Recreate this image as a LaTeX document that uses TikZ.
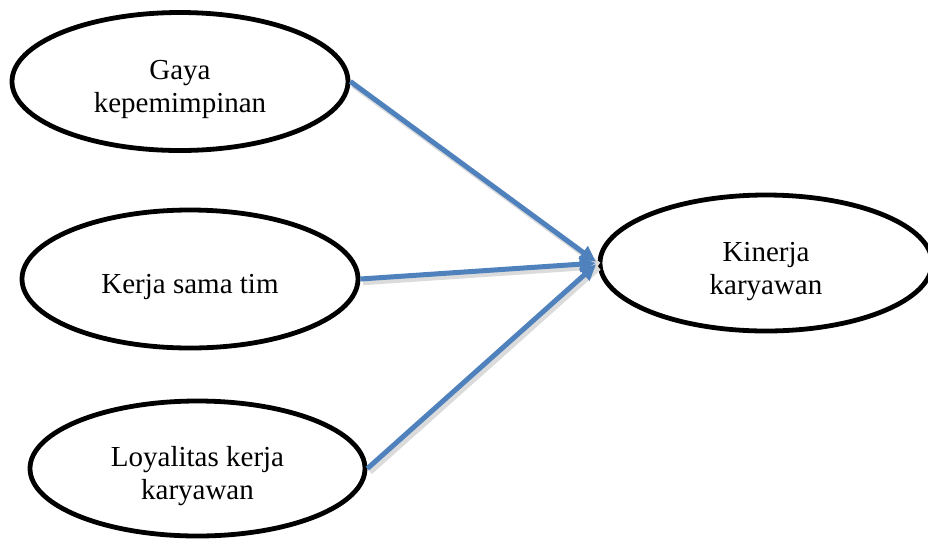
\documentclass[tikz,border=0pt]{standalone}
\usepackage{fontspec}
\setmainfont{Liberation Serif}
\usepackage{tikz}
\usetikzlibrary{shapes,arrows.meta,positioning}

\definecolor{linkblue}{HTML}{4F81BD}
\newcommand{\vartext}[1]{\raisebox{-4pt}[\height][\depth]{\begin{tabular}{@{}c@{}}#1\end{tabular}}}

\begin{document}
\begin{tikzpicture}[x=0.5pt, y=-0.5pt,
    var/.style={draw, ellipse, line width=2.4pt, inner sep=0pt,
        font=\fontsize{14.5}{16.5}\selectfont},
    link/.style={draw=linkblue, line width=2.5pt, -{Triangle[length=8pt, width=7.5pt]},
        shorten >=1pt,
        preaction={draw=black!14, line width=3pt, -, transform canvas={shift={(1.3pt,-1.6pt)}}}}]
    \useasboundingbox (0,0) rectangle (928,543);

    \node[var, minimum width=168pt, minimum height=69pt] (gaya) at (180,81.5) {\vartext{Gaya\\kepemimpinan}};
    \node[var, minimum width=168pt, minimum height=69pt] (tim) at (190,279) {\vartext{Kerja sama tim}};
    \node[var, minimum width=167.5pt, minimum height=67.5pt] (loyal) at (197.5,468.5) {\vartext{Loyalitas kerja\\karyawan}};
    \node[var, minimum width=166pt, minimum height=68pt] (kinerja) at (766,263) {\vartext{Kinerja\\karyawan}};

    % Panah ke kinerja
    \foreach \v in {gaya,tim,loyal} {
        \draw[link] (\v.east) -- (kinerja.west);
    }
\end{tikzpicture}
\end{document}
